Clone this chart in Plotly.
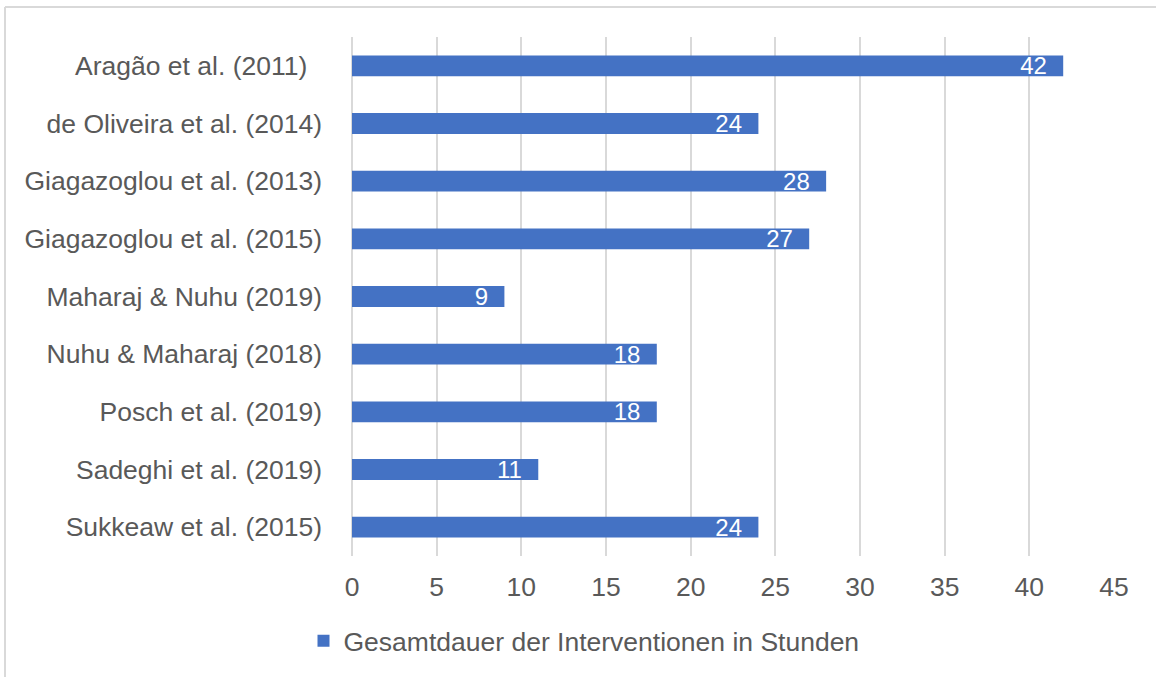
import plotly.graph_objects as go

categories = [
    "Aragão et al. (2011)\u00a0\u00a0",
    "de Oliveira et al. (2014)",
    "Giagazoglou et al. (2013)",
    "Giagazoglou et al. (2015)",
    "Maharaj & Nuhu (2019)",
    "Nuhu & Maharaj (2018)",
    "Posch et al. (2019)",
    "Sadeghi et al. (2019)",
    "Sukkeaw et al. (2015)",
]
values = [42, 24, 28, 27, 9, 18, 18, 11, 24]
series_name = "Gesamtdauer der Interventionen in Stunden"
x_ticks = [0, 5, 10, 15, 20, 25, 30, 35, 40, 45]

W, H = 1156, 677
ml, mr, mt, mb = 352, 42, 37, 121
pw, ph = W - ml - mr, H - mt - mb

FONT = "Liberation Sans, Arial, sans-serif"
GRAY = "#595959"
GRID = "#D9D9D9"
FS = 26.5

fig = go.Figure(
    go.Bar(
        y=categories,
        x=values,
        orientation="h",
        name=series_name,
        marker=dict(color="#4472C4", line=dict(width=0)),
        texttemplate="%{x}\u00a0\u00a0",
        textposition="inside",
        insidetextanchor="end",
        textangle=0,
        textfont=dict(color="white", size=24, family=FONT),
        constraintext="none",
        cliponaxis=False,
    )
)

# outer chart border (top and left edges visible in reference)
px2x = lambda p: (p - ml) / pw
py2y = lambda p: (H - mb - p) / ph
border = dict(color=GRID, width=2)
fig.add_shape(type="line", xref="paper", yref="paper",
              x0=px2x(5), x1=px2x(1170), y0=py2y(7), y1=py2y(7), line=border)
fig.add_shape(type="line", xref="paper", yref="paper",
              x0=px2x(5), x1=px2x(5), y0=py2y(7), y1=py2y(690), line=border)

fig.update_layout(
    width=W,
    height=H,
    margin=dict(l=ml, r=mr, t=mt, b=mb, pad=0),
    paper_bgcolor="white",
    plot_bgcolor="white",
    font=dict(family=FONT, size=FS, color=GRAY),
    bargap=0.64,
    showlegend=True,
    legend=dict(
        orientation="h",
        x=584 / W,
        xref="container",
        xanchor="center",
        y=1 - 641 / H,
        yref="container",
        yanchor="middle",
        font=dict(size=FS, color=GRAY, family=FONT),
        bgcolor="rgba(0,0,0,0)",
    ),
    xaxis=dict(
        range=[0, 45],
        tickvals=x_ticks,
        ticktext=[str(t) for t in x_ticks],
        showgrid=True,
        gridcolor=GRID,
        gridwidth=2,
        zeroline=True,
        zerolinecolor=GRID,
        zerolinewidth=2,
        showline=False,
        ticks="",
        ticklabelstandoff=12,
        tickfont=dict(size=FS, color=GRAY, family=FONT),
        fixedrange=True,
    ),
    yaxis=dict(
        autorange="reversed",
        showgrid=False,
        zeroline=False,
        showline=False,
        ticks="",
        ticklabelstandoff=29,
        tickfont=dict(size=FS, color=GRAY, family=FONT),
        fixedrange=True,
    ),
)

fig.write_html(
    "out.html",
    config={"displayModeBar": False},
    post_script="document.body.style.margin='0';document.body.style.overflow='hidden';",
)
